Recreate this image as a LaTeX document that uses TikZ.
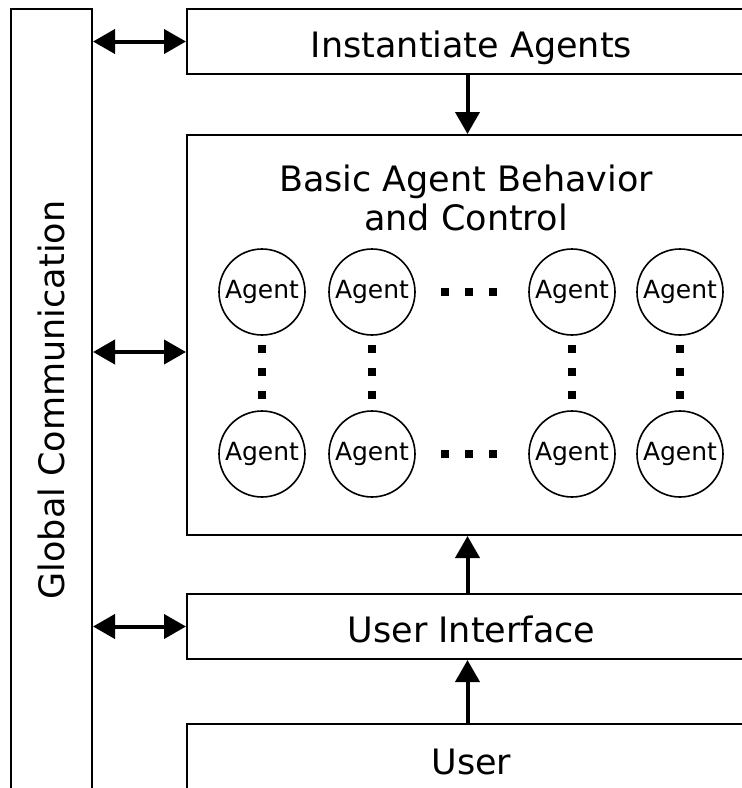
\documentclass[tikz,border=0pt]{standalone}
\usepackage{fontspec}
\setmainfont{DejaVu Sans}
\usetikzlibrary{arrows.meta, positioning, calc}

\begin{document}
\begin{tikzpicture}[x=1pt, y=-1pt,
    box/.style={draw, line width=2pt, inner sep=0pt, text height=31pt, text depth=0pt, font=\fontsize{35}{40}\selectfont},
    agent/.style={draw, circle, line width=1.6pt, minimum size=86pt, inner sep=0pt, font=\fontsize{25}{30}\selectfont},
    link/.style={line width=4pt, -{Triangle[length=22pt, width=24pt]}},
    dlink/.style={line width=4pt, {Triangle[length=22pt, width=24pt]}-{Triangle[length=22pt, width=24pt]}}]
    \useasboundingbox (0,0) rectangle (742,788);
    \clip (0,0) rectangle (742,788);
    \node[draw, line width=2pt, inner sep=0pt, minimum width=81pt, minimum height=782pt, font=\fontsize{35}{40}\selectfont] (glob) at (51.5,400) {\rotatebox{90}{Global Communication}};
    \node[box, minimum width=569pt, minimum height=65pt] (inst) at (471.5,41.5) {Instantiate Agents};
    \node[box, minimum width=569pt, minimum height=400pt] (basic) at (471.5,335) {};
    \node[font=\fontsize{35}{39}\selectfont, align=center] (title) at (466,198) {Basic Agent Behavior\\and Control};
    \node[box, minimum width=569pt, minimum height=65pt] (ui) at (471.5,626.5) {User Interface};
    \node[box, minimum width=569pt, minimum height=69pt] (user) at (471.5,758.5) {User};
    \foreach \x [count=\c] in {262, 372, 572, 680} {
      \node[agent] (a1\c) at (\x,292) {Agent};
      \node[agent] (a2\c) at (\x,454) {Agent};
      \foreach \y in {349, 372, 395}
        \fill (\x-4,\y-4) rectangle ++(8,8);
    }
    \foreach \x in {445, 469, 493} {
      \fill (\x-4,288) rectangle ++(8,8);
      \fill (\x-4,450) rectangle ++(8,8);
    }
    \coordinate (bmid) at ([yshift=-17pt]basic.west);
    \draw[dlink] (glob.east |- inst.west) -- (inst.west);
    \draw[dlink] (glob.east |- bmid) -- (bmid);
    \draw[dlink] (glob.east |- ui.west) -- (ui.west);
    \draw[link] ([xshift=-4pt]inst.south) -- ([xshift=-4pt]basic.north);
    \draw[link] ([xshift=-4pt]ui.north) -- ([xshift=-4pt]basic.south);
    \draw[link] ([xshift=-4pt]user.north) -- ([xshift=-4pt]ui.south);
  \end{tikzpicture}
\end{document}
